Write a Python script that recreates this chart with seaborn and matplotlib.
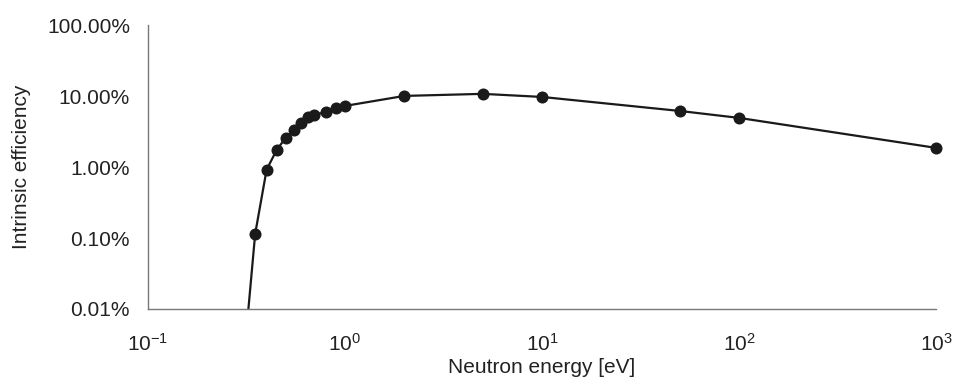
import numpy as np
import pandas as pd
import matplotlib
matplotlib.use("Agg")
import matplotlib.pyplot as plt
import matplotlib.ticker as mticker
import seaborn as sns

# neutron energy [eV] and intrinsic efficiency (fraction)
energy = [0.30, 0.35, 0.40, 0.45, 0.50, 0.55, 0.60, 0.65, 0.70, 0.80, 0.90, 1.0,
          2.0, 5.0, 10.0, 50.0, 100.0, 1000.0]
efficiency = [0.00001, 0.00115, 0.0092, 0.0175, 0.0259, 0.0335, 0.0421, 0.0511,
              0.0545, 0.0601, 0.0684, 0.073, 0.101, 0.108, 0.0977, 0.062,
              0.0495, 0.0187]

df = pd.DataFrame({"energy": energy, "eff": efficiency})

sns.set_style("white")
plt.rcParams["font.family"] = ["Liberation Sans", "DejaVu Sans"]
plt.rcParams["mathtext.default"] = "regular"
plt.rcParams["axes.unicode_minus"] = False

fig = plt.figure(figsize=(9.58, 3.8), dpi=100)
ax = fig.add_axes([148 / 958, 1 - 309 / 380, 788 / 958, (309 - 25.3) / 380])

# line is clipped at the axis, the dots are not (last one sits on the edge)
sns.lineplot(data=df, x="energy", y="eff", ax=ax, color="#1a1a1a",
             linewidth=1.6, estimator=None, sort=False)
shown = df[df["eff"] >= 1e-4]
sns.scatterplot(data=shown, x="energy", y="eff", ax=ax, color="#1a1a1a",
                s=75, linewidth=0, clip_on=False, zorder=3)

ax.set_xscale("log")
ax.set_yscale("log")
ax.set_xlim(0.1, 1000)
ax.set_ylim(1e-4, 1)

ax.xaxis.set_major_locator(mticker.LogLocator(base=10, numticks=10))
ax.xaxis.set_minor_locator(mticker.NullLocator())
ax.yaxis.set_major_locator(mticker.FixedLocator([1e-4, 1e-3, 1e-2, 1e-1, 1]))
ax.yaxis.set_minor_locator(mticker.NullLocator())
ax.yaxis.set_major_formatter(mticker.FuncFormatter(lambda v, p: f"{v * 100:.2f}%"))

for s in ["top", "right"]:
    ax.spines[s].set_visible(False)
for s in ["left", "bottom"]:
    ax.spines[s].set_color("#777777")
    ax.spines[s].set_linewidth(1.0)

ax.tick_params(axis="x", direction="in", length=5, width=1, color="#777777",
               pad=17, labelsize=15, labelcolor="#222222")
ax.tick_params(axis="y", direction="in", length=5, width=1, color="#777777",
               pad=13, labelsize=15, labelcolor="#222222")

ax.set_xlabel("Neutron energy [eV]", fontsize=15, color="#222222")
ax.set_ylabel("Intrinsic efficiency", fontsize=15, color="#222222")
ax.xaxis.set_label_coords(0.5, -0.173)
ax.yaxis.set_label_coords(-0.148, 0.5)

fig.savefig("out.png", dpi=100)
